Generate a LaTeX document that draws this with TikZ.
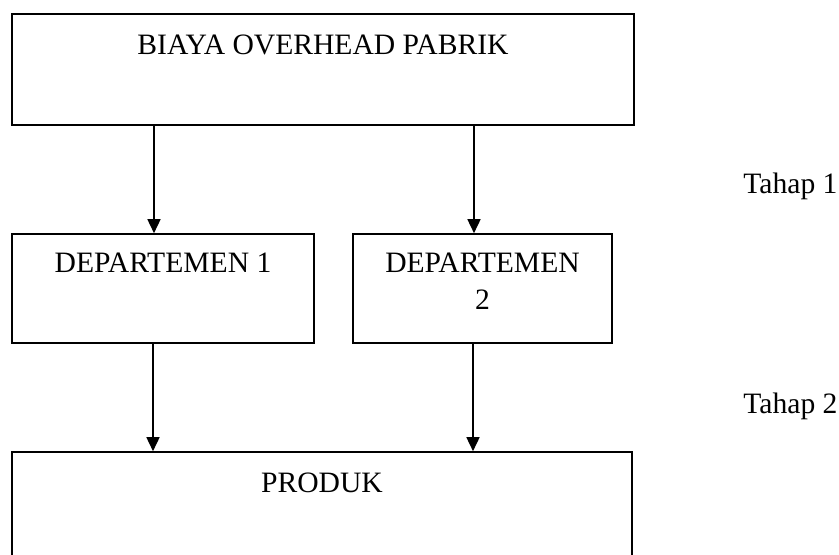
\documentclass[tikz,border=0pt]{standalone}
\usepackage{fontspec}
\setmainfont{Liberation Serif}
\usetikzlibrary{positioning, arrows.meta}

\begin{document}
\begin{tikzpicture}[
          box/.style={draw=black, line width=0.8pt, rectangle, inner sep=0pt},
          txt/.style={font=\fontsize{14.8}{18.5}\selectfont, align=center, inner sep=0pt},
          arr/.style={-{Triangle[length=7pt, width=6.5pt]}, line width=0.8pt}]
        \useasboundingbox (0,0) rectangle (419.5pt,-277.5pt);
        \clip (0,0) rectangle (419.5pt,-277.5pt);
        % boxes, text sits at the top of each box
        \node[box, minimum width=311pt, minimum height=55.5pt,
              label={[txt, anchor=north, yshift=-10.5pt]north:BIAYA OVERHEAD PABRIK}] (bop) at (161.5pt,-34.75pt) {};
        \node[box, minimum width=151pt, minimum height=54.5pt,
              label={[txt, anchor=north, yshift=-9.5pt]north:DEPARTEMEN 1}] (dep1) at (81.5pt,-144.25pt) {};
        \node[box, minimum width=129.5pt, minimum height=54.5pt,
              label={[txt, anchor=north, yshift=-9.5pt]north:DEPARTEMEN\\2}] (dep2) at (241.25pt,-144.25pt) {};
        \node[box, minimum width=310pt, minimum height=58pt,
              label={[txt, anchor=north, yshift=-10.5pt]north:PRODUK}] (prod) at (161pt,-255pt) {};
        \node[txt, anchor=base west] (t1) at (371.5pt,-97pt) {Tahap 1};
        \node[txt, anchor=base west] (t2) at (371.5pt,-206.5pt) {Tahap 2};
        % arrows
        \draw[arr] ([xshift=-4.5pt]dep1.north |- bop.south) -- ([xshift=-4.5pt]dep1.north);
        \draw[arr] ([xshift=-4.25pt]dep2.north |- bop.south) -- ([xshift=-4.25pt]dep2.north);
        \draw[arr] ([xshift=-5pt]dep1.south) -- ([xshift=-5pt]dep1.south |- prod.north);
        \draw[arr] ([xshift=-4.75pt]dep2.south) -- ([xshift=-4.75pt]dep2.south |- prod.north);
      \end{tikzpicture}
\end{document}
